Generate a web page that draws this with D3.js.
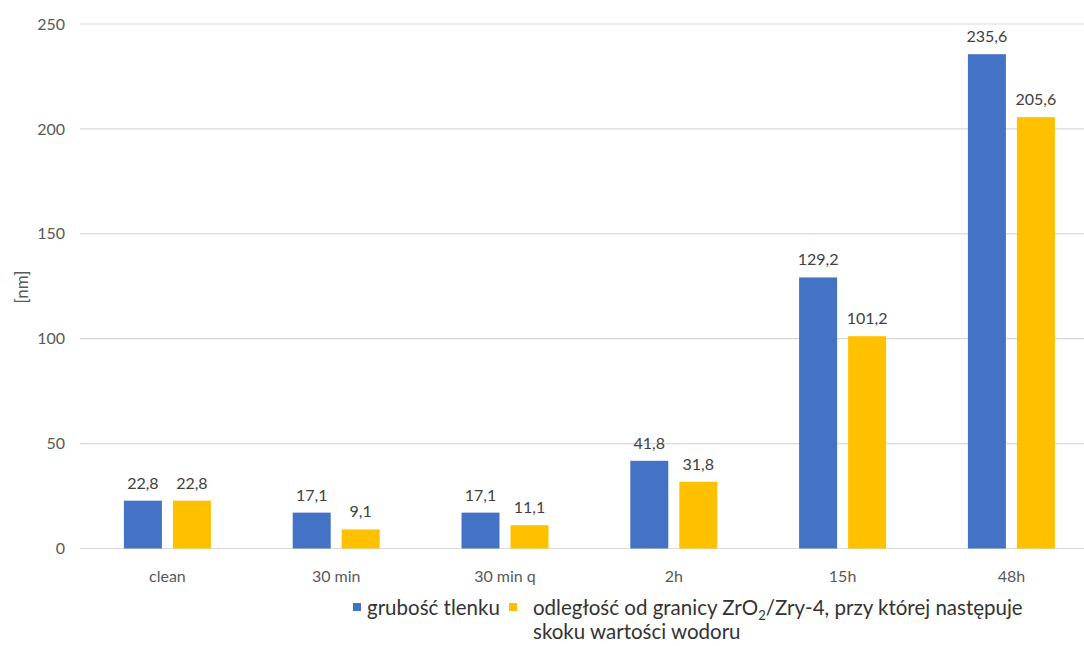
<!DOCTYPE html>
<html>
<head>
<meta charset="utf-8">
<script src="https://cdn.jsdelivr.net/npm/d3@7"></script>
<style>
  html, body { margin: 0; padding: 0; background: #fff; }
  svg text { font-family: Lato, "Open Sans", sans-serif; }
</style>
</head>
<body>
<svg id="chart" width="1084" height="646"></svg>
<script>
const categories = ["clean", "30 min", "30 min q", "2h", "15h", "48h"];
const seriesNames = ["grubość tlenku", "odległość od granicy ZrO2/Zry-4, przy której następuje skoku wartości wodoru"];
const oxideThickness = [22.8, 17.1, 17.1, 41.8, 129.2, 235.6];
const hydrogenJumpDistance = [22.8, 9.1, 11.1, 31.8, 101.2, 205.6];
const yTicks = [0, 50, 100, 150, 200, 250];
const colors = ["#4472C4", "#FFC000"];

const svg = d3.select("#chart");
const W = 1084, H = 646;
const plot = { left: 80, right: 1093, top: 24, bottom: 548.5 };

const x = d3.scaleBand().domain(categories).range([plot.left + 3, plot.left + 3 + 6 * 168.8]).padding(0);
const y = d3.scaleLinear().domain([0, 250]).range([plot.bottom, plot.top]);

// gridlines
svg.append("g").selectAll("line").data(yTicks).join("line")
  .attr("x1", plot.left).attr("x2", W)
  .attr("y1", d => y(d)).attr("y2", d => y(d))
  .attr("stroke", "#D9D9D9").attr("stroke-width", 1.2);

// y tick labels
svg.append("g").selectAll("text").data(yTicks).join("text")
  .attr("x", 65).attr("y", d => y(d)).attr("dy", "0.35em")
  .attr("text-anchor", "end").attr("font-size", 16).attr("fill", "#595959")
  .text(d => d);

// y title
svg.append("text")
  .attr("transform", "translate(22,287) rotate(-90)")
  .attr("text-anchor", "middle").attr("dy", "0.35em")
  .attr("font-size", 17).attr("fill", "#595959").text("[nm]");

// bars
const barW = 38, gap = 11;
const series = [oxideThickness, hydrogenJumpDistance];
series.forEach((vals, si) => {
  const g = svg.append("g");
  const bx = (d, i) => x(categories[i]) + x.bandwidth() / 2 + (si === 0 ? -(barW + gap / 2) : gap / 2);
  g.selectAll("rect").data(vals).join("rect")
    .attr("x", bx).attr("width", barW)
    .attr("y", d => y(d)).attr("height", d => y(0) - y(d))
    .attr("fill", colors[si]);
  g.selectAll("text").data(vals).join("text")
    .attr("x", (d, i) => bx(d, i) + barW / 2)
    .attr("y", d => y(d) - 12)
    .attr("text-anchor", "middle").attr("font-size", 16).attr("fill", "#404040")
    .text(d => d.toFixed(1).replace(".", ","));
});

// category labels
svg.append("g").selectAll("text").data(categories).join("text")
  .attr("x", d => x(d) + x.bandwidth() / 2).attr("y", 576).attr("dy", "0.35em")
  .attr("text-anchor", "middle").attr("font-size", 16).attr("fill", "#595959")
  .text(d => d);

// legend
const leg = svg.append("g");
const lfs = 20.5;
leg.append("rect").attr("x", 353).attr("y", 603).attr("width", 8).attr("height", 8).attr("fill", colors[0]);
leg.append("text").attr("x", 367).attr("y", 615).attr("font-size", lfs).attr("fill", "#333")
  .text(seriesNames[0]);
leg.append("rect").attr("x", 509).attr("y", 603).attr("width", 8).attr("height", 8).attr("fill", colors[1]);
const t2 = leg.append("text").attr("x", 533).attr("y", 615).attr("font-size", lfs).attr("fill", "#333");
t2.append("tspan").text("odległość od granicy ZrO");
t2.append("tspan").attr("font-size", 13).attr("dy", 5).text("2");
t2.append("tspan").attr("dy", -5).text("/Zry-4, przy której następuje");
leg.append("text").attr("x", 533).attr("y", 639).attr("font-size", lfs).attr("fill", "#333")
  .text("skoku wartości wodoru");
</script>
</body>
</html>
